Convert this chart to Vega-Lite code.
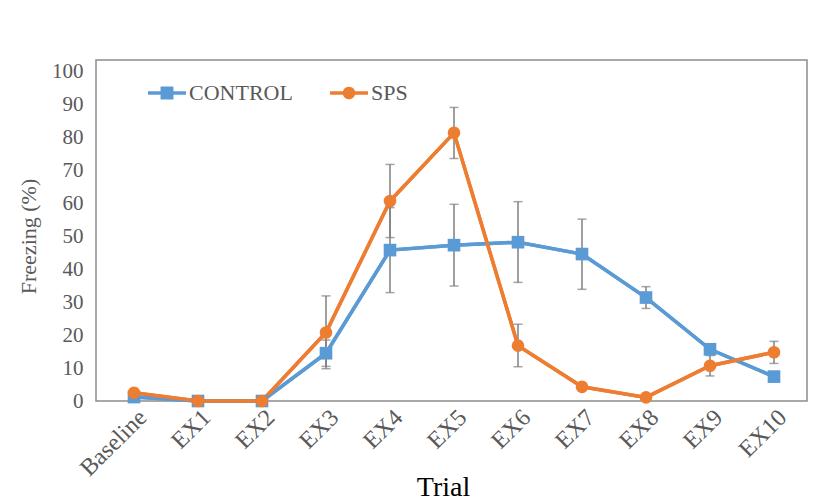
{
  "$schema": "https://vega.github.io/schema/vega-lite/v6.json",
  "width": 711,
  "height": 341,
  "autosize": "none",
  "padding": {"left": 96, "top": 60, "right": 22, "bottom": 99},
  "background": "white",
  "config": {
    "font": "Liberation Serif",
    "view": {"stroke": "#8c8c8c", "strokeWidth": 1.5},
    "legend": {"labelFont": "Liberation Serif"},
    "axisY": {
      "labelFont": "Liberation Serif",
      "labelFontSize": 21,
      "labelColor": "#595959",
      "labelPadding": 13,
      "labelOverlap": false,
      "labelBound": false,
      "labelSeparation": 0,
      "tickCount": 11,
      "ticks": false,
      "domain": false,
      "grid": false,
      "titleFont": "Liberation Serif",
      "titleFontSize": 22,
      "titleFontWeight": "normal",
      "titleColor": "#595959",
      "titleAngle": -90,
      "titleX": -68,
      "titleY": 176,
      "titleAlign": "center",
      "titleBaseline": "middle"
    }
  },
  "data": {
    "values": [
      {"trial": "Baseline", "group": "CONTROL", "mean": 1.2, "lo": null, "hi": null},
      {"trial": "EX1", "group": "CONTROL", "mean": 0, "lo": null, "hi": null},
      {"trial": "EX2", "group": "CONTROL", "mean": 0, "lo": null, "hi": null},
      {"trial": "EX3", "group": "CONTROL", "mean": 14.5, "lo": 10.5, "hi": 18.5},
      {"trial": "EX4", "group": "CONTROL", "mean": 45.8, "lo": 32.9, "hi": 58.7},
      {"trial": "EX5", "group": "CONTROL", "mean": 47.3, "lo": 34.9, "hi": 59.7},
      {"trial": "EX6", "group": "CONTROL", "mean": 48.2, "lo": 36.0, "hi": 60.5},
      {"trial": "EX7", "group": "CONTROL", "mean": 44.6, "lo": 33.9, "hi": 55.2},
      {"trial": "EX8", "group": "CONTROL", "mean": 31.4, "lo": 28.1, "hi": 34.7},
      {"trial": "EX9", "group": "CONTROL", "mean": 15.7, "lo": null, "hi": null},
      {"trial": "EX10", "group": "CONTROL", "mean": 7.4, "lo": null, "hi": null},
      {"trial": "Baseline", "group": "SPS", "mean": 2.5, "lo": null, "hi": null},
      {"trial": "EX1", "group": "SPS", "mean": 0, "lo": null, "hi": null},
      {"trial": "EX2", "group": "SPS", "mean": 0, "lo": null, "hi": null},
      {"trial": "EX3", "group": "SPS", "mean": 20.8, "lo": 9.8, "hi": 31.9},
      {"trial": "EX4", "group": "SPS", "mean": 60.7, "lo": 49.6, "hi": 71.8},
      {"trial": "EX5", "group": "SPS", "mean": 81.4, "lo": 73.6, "hi": 89.1},
      {"trial": "EX6", "group": "SPS", "mean": 16.8, "lo": 10.4, "hi": 23.3},
      {"trial": "EX7", "group": "SPS", "mean": 4.3, "lo": null, "hi": null},
      {"trial": "EX8", "group": "SPS", "mean": 1.1, "lo": null, "hi": null},
      {"trial": "EX9", "group": "SPS", "mean": 10.7, "lo": 7.6, "hi": 13.8},
      {"trial": "EX10", "group": "SPS", "mean": 14.8, "lo": 11.4, "hi": 18.1}
    ]
  },
  "encoding": {
    "x": {
      "field": "trial",
      "type": "ordinal",
      "sort": ["Baseline", "EX1", "EX2", "EX3", "EX4", "EX5", "EX6", "EX7", "EX8", "EX9", "EX10"],
      "scale": {"type": "point", "range": [38, 678], "padding": 0},
      "axis": {
        "title": "Trial",
        "labelAngle": -45,
        "labelFont": "Liberation Serif",
        "labelFontSize": 24,
        "labelColor": "#595959",
        "labelPadding": 4,
        "ticks": false,
        "domain": false,
        "grid": false,
        "titleFont": "Liberation Serif",
        "titleFontSize": 28,
        "titleFontWeight": "normal",
        "titleColor": "#000000",
        "titleX": 347,
        "titleY": 94,
        "titleAnchor": null,
        "titleAlign": "center",
        "titleBaseline": "alphabetic"
      }
    }
  },
  "layer": [
    {
      "mark": {"type": "line", "strokeWidth": 3.5},
      "encoding": {
        "y": {
          "field": "mean",
          "type": "quantitative",
          "title": "Freezing (%)",
          "scale": {"domain": [0, 103.5], "nice": false, "zero": true},
          "axis": {"title": "Freezing (%)", "values": [0, 10, 20, 30, 40, 50, 60, 70, 80, 90, 100], "labelOverlap": false, "tickCount": 11}
        },
        "color": {
          "field": "group",
          "type": "nominal",
          "scale": {"domain": ["CONTROL", "SPS"], "range": ["#5B9BD5", "#ED7D31"]},
          "legend": {
            "title": null,
            "orient": "none",
            "direction": "horizontal",
            "legendX": 52,
            "legendY": 14,
            "padding": 0,
            "labelFont": "Liberation Serif",
            "labelFontSize": 22,
            "labelColor": "#595959",
            "labelOffset": 3,
            "columnPadding": 37,
            "symbolSize": 1444,
            "encode": {
              "labels": {
                "update": {
                  "font": {"value": "Liberation Serif"},
                  "fontSize": {"value": 22},
                  "fill": {"value": "#595959"}
                }
              },
              "symbols": {
                "update": {
                  "shape": [
                    {"test": "datum.value === 'CONTROL'", "value": "M -1 -0.09 L 1 -0.09 L 1 0.09 L -1 0.09 Z M -0.34 -0.34 L 0.34 -0.34 L 0.34 0.34 L -0.34 0.34 Z"},
                    {"value": "M -1 -0.09 L 1 -0.09 L 1 0.09 L -1 0.09 Z M 0.33 0 A 0.33 0.33 0 1 1 -0.33 0 A 0.33 0.33 0 1 1 0.33 0 Z"}
                  ],
                  "fill": [
                    {"test": "datum.value === 'CONTROL'", "value": "#5B9BD5"},
                    {"value": "#ED7D31"}
                  ],
                  "stroke": {"value": "transparent"},
                  "strokeWidth": {"value": 0},
                  "opacity": {"value": 1},
                  "size": {"value": 1444}
                }
              }
            }
          }
        }
      }
    },
    {
      "transform": [{"filter": "isValid(datum.lo)"}],
      "mark": {"type": "rule", "color": "#7f7f7f", "strokeWidth": 1.5},
      "encoding": {
        "y": {"field": "lo", "type": "quantitative", "title": "Freezing (%)"},
        "y2": {"field": "hi"}
      }
    },
    {
      "transform": [{"filter": "isValid(datum.lo)"}],
      "mark": {"type": "tick", "color": "#7f7f7f", "thickness": 1.5, "size": 9, "orient": "horizontal"},
      "encoding": {
        "y": {"field": "lo", "type": "quantitative", "title": "Freezing (%)"}
      }
    },
    {
      "transform": [{"filter": "isValid(datum.lo)"}],
      "mark": {"type": "tick", "color": "#7f7f7f", "thickness": 1.5, "size": 9, "orient": "horizontal"},
      "encoding": {
        "y": {"field": "hi", "type": "quantitative", "title": "Freezing (%)"}
      }
    },
    {
      "mark": {"type": "line", "strokeWidth": 3.5},
      "encoding": {
        "y": {"field": "mean", "type": "quantitative", "title": "Freezing (%)"},
        "color": {"field": "group", "type": "nominal"}
      }
    },
    {
      "transform": [{"filter": "datum.group === 'CONTROL'"}],
      "mark": {"type": "point", "shape": "square", "filled": true, "opacity": 1, "size": 160},
      "encoding": {
        "y": {"field": "mean", "type": "quantitative", "title": "Freezing (%)"},
        "color": {"field": "group", "type": "nominal"}
      }
    },
    {
      "transform": [{"filter": "datum.group === 'SPS'"}],
      "mark": {"type": "point", "shape": "circle", "filled": true, "opacity": 1, "size": 160},
      "encoding": {
        "y": {"field": "mean", "type": "quantitative", "title": "Freezing (%)"},
        "color": {"field": "group", "type": "nominal"}
      }
    }
  ]
}
